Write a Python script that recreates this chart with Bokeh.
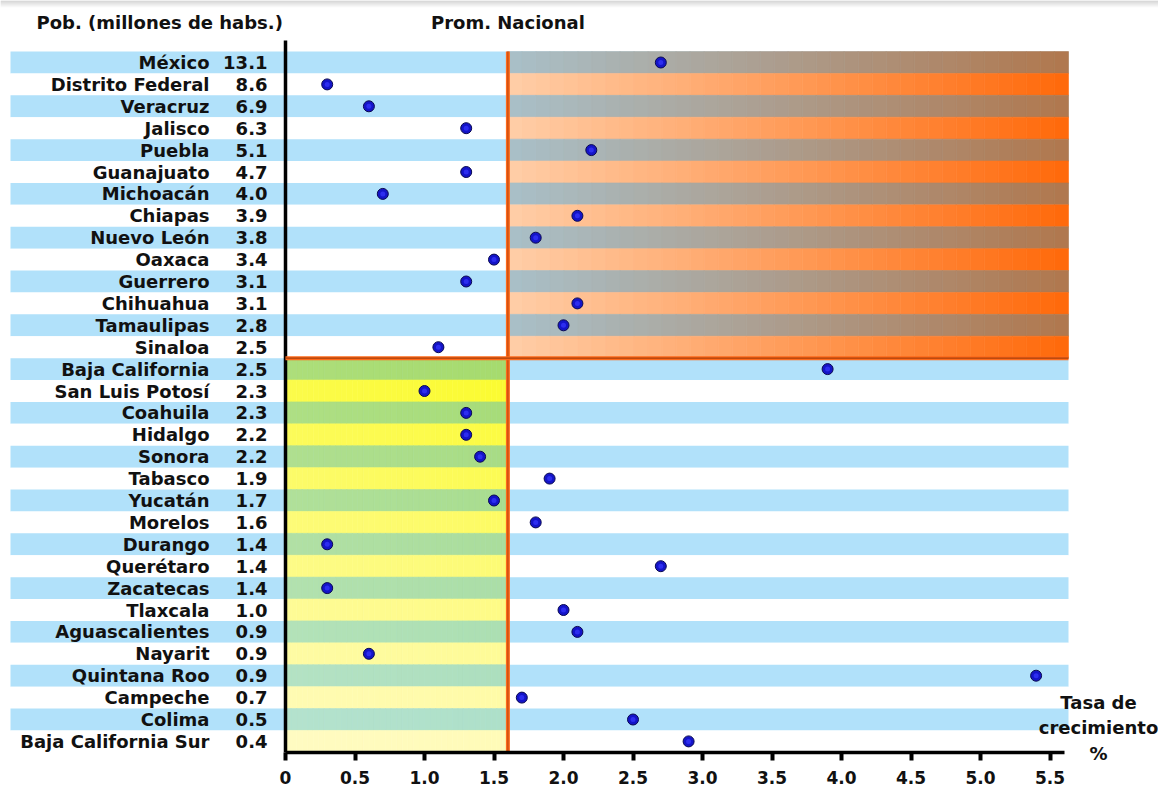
import numpy as np
from bokeh.plotting import figure
from bokeh.models import Range1d, LinearAxis, FixedTicker, Label
from bokeh.embed import file_html
from bokeh.resources import INLINE
from bokeh.core.properties import value

# ---------------- data ----------------
states = ["México", "Distrito Federal", "Veracruz", "Jalisco", "Puebla", "Guanajuato",
          "Michoacán", "Chiapas", "Nuevo León", "Oaxaca", "Guerrero", "Chihuahua",
          "Tamaulipas", "Sinaloa", "Baja California", "San Luis Potosí", "Coahuila",
          "Hidalgo", "Sonora", "Tabasco", "Yucatán", "Morelos", "Durango", "Querétaro",
          "Zacatecas", "Tlaxcala", "Aguascalientes", "Nayarit", "Quintana Roo",
          "Campeche", "Colima", "Baja California Sur"]
population = [13.1, 8.6, 6.9, 6.3, 5.1, 4.7, 4.0, 3.9, 3.8, 3.4, 3.1, 3.1, 2.8, 2.5,
              2.5, 2.3, 2.3, 2.2, 2.2, 1.9, 1.7, 1.6, 1.4, 1.4, 1.4, 1.0, 0.9, 0.9,
              0.9, 0.7, 0.5, 0.4]
growth = [2.7, 0.3, 0.6, 1.3, 2.2, 1.3, 0.7, 2.1, 1.8, 1.5, 1.3, 2.1, 2.0, 1.1,
          3.9, 1.0, 1.3, 1.3, 1.4, 1.9, 1.5, 1.8, 0.3, 2.7, 0.3, 2.0, 2.1, 0.6,
          5.4, 1.7, 2.5, 2.9]
national_avg = 1.6
split_row = 14          # first row of the lower group
x_ticks = [0, 0.5, 1.0, 1.5, 2.0, 2.5, 3.0, 3.5, 4.0, 4.5, 5.0, 5.5]
x_tick_labels = ["0", "0.5", "1.0", "1.5", "2.0", "2.5", "3.0", "3.5", "4.0", "4.5", "5.0", "5.5"]

# ---------------- layout ----------------
W, H = 1158, 797
X0_PX, PX_PER = 285.0, 139.0
AXIS_PX = 752.0
ROW0_PX, ROW_PX = 62.0, 21.9
x_lo, x_hi = -X0_PX / PX_PER, (W - X0_PX) / PX_PER
y_top, y_bot = -ROW0_PX / ROW_PX, (H - ROW0_PX) / ROW_PX
y_axis = (AXIS_PX - ROW0_PX) / ROW_PX
band_left, band_right = (10 - X0_PX) / PX_PER, (1068 - X0_PX) / PX_PER


def py(px):
    return (px - ROW0_PX) / ROW_PX


FONT = "DejaVu Sans"

p = figure(width=W, height=H, output_backend="svg", toolbar_location=None,
           x_range=Range1d(x_lo, x_hi), y_range=Range1d(y_bot, y_top),
           x_axis_type=None, y_axis_type=None,
           min_border_left=0, min_border_right=0, min_border_top=0, min_border_bottom=0)
p.outline_line_color = None
p.grid.visible = False
p.background_fill_color = "white"
p.border_fill_color = "white"

n = len(states)
rows = np.arange(n)


def lerp(c1, c2, t):
    a = np.array([int(c1[i:i + 2], 16) for i in (1, 3, 5)], float)
    b = np.array([int(c2[i:i + 2], 16) for i in (1, 3, 5)], float)
    c = a + (b - a) * t
    return "#%02x%02x%02x" % tuple(int(round(v)) for v in c)


# faint shadow along the top edge
sh = np.arange(8)
p.quad(left=x_lo, right=x_hi, top=[py(k) for k in sh], bottom=[py(k + 1) for k in sh],
       fill_color=[lerp("#c8c8c8", "#ffffff", k / 7) for k in sh], line_color=None)

# base stripes
p.quad(left=band_left, right=band_right, top=rows - 0.5, bottom=rows + 0.5,
       fill_color=["#b1e1fa" if i % 2 == 0 else "#ffffff" for i in rows], line_color=None)

NSEG = 40
L, R, T, B, C = [], [], [], [], []
# upper-right quadrant: gradient left->right
edges = np.linspace(national_avg, band_right, NSEG + 1)
for i in range(split_row):
    for k in range(NSEG):
        t = k / (NSEG - 1)
        if i % 2 == 0:
            col = lerp("#a9bfc7", "#b0784f", t)
        else:
            col = lerp("#ffcda6", "#ff6a0c", t)
        L.append(edges[k]); R.append(edges[k + 1]); T.append(i - 0.5); B.append(i + 0.5); C.append(col)
# lower-left quadrant: gradient top->bottom and slightly left->right
edges2 = np.linspace(0, national_avg, NSEG + 1)
nlow = n - split_row
for i in range(split_row, n):
    tv = (i - split_row) / (nlow - 1)
    for k in range(NSEG):
        th = k / (NSEG - 1)
        if (i - split_row) % 2 == 0:
            base = lerp("#a6db6e", "#aee0cf", tv)
            col = lerp(lerp(base, "#ffffff", 0.08), base, th)
        else:
            base = lerp("#fbfb2a", "#fffbb8", tv)
            col = lerp(lerp(base, "#ffffff", 0.12), base, th)
        L.append(edges2[k]); R.append(edges2[k + 1]); T.append(i - 0.5); B.append(i + 0.5); C.append(col)
p.quad(left=L, right=R, top=T, bottom=B, fill_color=C, line_color=C, line_width=0.6)

# lines
p.segment(x0=[0], y0=[py(40)], x1=[0], y1=[y_axis], line_color="black", line_width=3.5)
p.segment(x0=[national_avg], y0=[-0.5], x1=[national_avg], y1=[n - 0.5], line_color="#ff6a1a", line_width=4)
p.segment(x0=[national_avg], y0=[-0.5], x1=[national_avg], y1=[n - 0.5], line_color="#c24a10", line_width=1.2)
p.segment(x0=[0], y0=[split_row - 0.5], x1=[band_right], y1=[split_row - 0.5], line_color="#ff6a1a", line_width=4)
p.segment(x0=[0], y0=[split_row - 0.5], x1=[band_right], y1=[split_row - 0.5], line_color="#a8400c", line_width=1.2)

# dots
p.scatter(x=growth, y=rows, size=11, fill_color="#1414c8", line_color="#0a0a50", line_width=1)
p.scatter(x=growth, y=rows, size=5, fill_color="#2d2df0", line_color=None)

# labels
name_x = (209 - X0_PX) / PX_PER
pop_x = (267 - X0_PX) / PX_PER
p.text(x=name_x, y=rows, text=states, text_align="right", text_baseline="middle",
       text_font=value(FONT), text_font_style="bold", text_font_size="18px", text_color="#111111")
p.text(x=pop_x, y=rows, text=["%.1f" % v for v in population], text_align="right",
       text_baseline="middle", text_font=value(FONT), text_font_style="bold",
       text_font_size="18px", text_color="#111111")

title_y = py(22)
p.add_layout(Label(x=(36 - X0_PX) / PX_PER, y=title_y, text="Pob. (millones de habs.)",
                   text_align="left", text_baseline="middle", text_font=FONT,
                   text_font_style="bold", text_font_size="18px", text_color="#111111"))
p.add_layout(Label(x=national_avg, y=title_y, text="Prom. Nacional",
                   text_align="center", text_baseline="middle", text_font=FONT,
                   text_font_style="bold", text_font_size="18px", text_color="#111111"))
rx = (1098 - X0_PX) / PX_PER
for txt, ypx in [("Tasa de", 702), ("crecimiento", 727), ("%", 753)]:
    p.add_layout(Label(x=rx, y=py(ypx), text=txt, text_align="center",
                       text_baseline="middle", text_font=FONT, text_font_style="bold",
                       text_font_size="18px", text_color="#111111"))

# x axis (drawn at a fixed location inside the full-height frame)
ax = LinearAxis(ticker=FixedTicker(ticks=x_ticks), bounds=(0, band_right - 0.03),
                fixed_location=y_axis)
ax.major_label_overrides = {float(t): lab for t, lab in zip(x_ticks, x_tick_labels)}
ax.axis_line_width = 3.5
ax.axis_line_color = "black"
ax.major_tick_line_width = 4
ax.major_tick_line_color = "black"
ax.major_tick_in = 0
ax.major_tick_out = 8
ax.minor_tick_line_color = None
ax.major_label_standoff = 10
ax.major_label_text_font = FONT
ax.major_label_text_font_style = "bold"
ax.major_label_text_font_size = "17px"
ax.major_label_text_color = "#111111"
p.add_layout(ax, "below")

open("out.html", "w").write(file_html(p, INLINE))
